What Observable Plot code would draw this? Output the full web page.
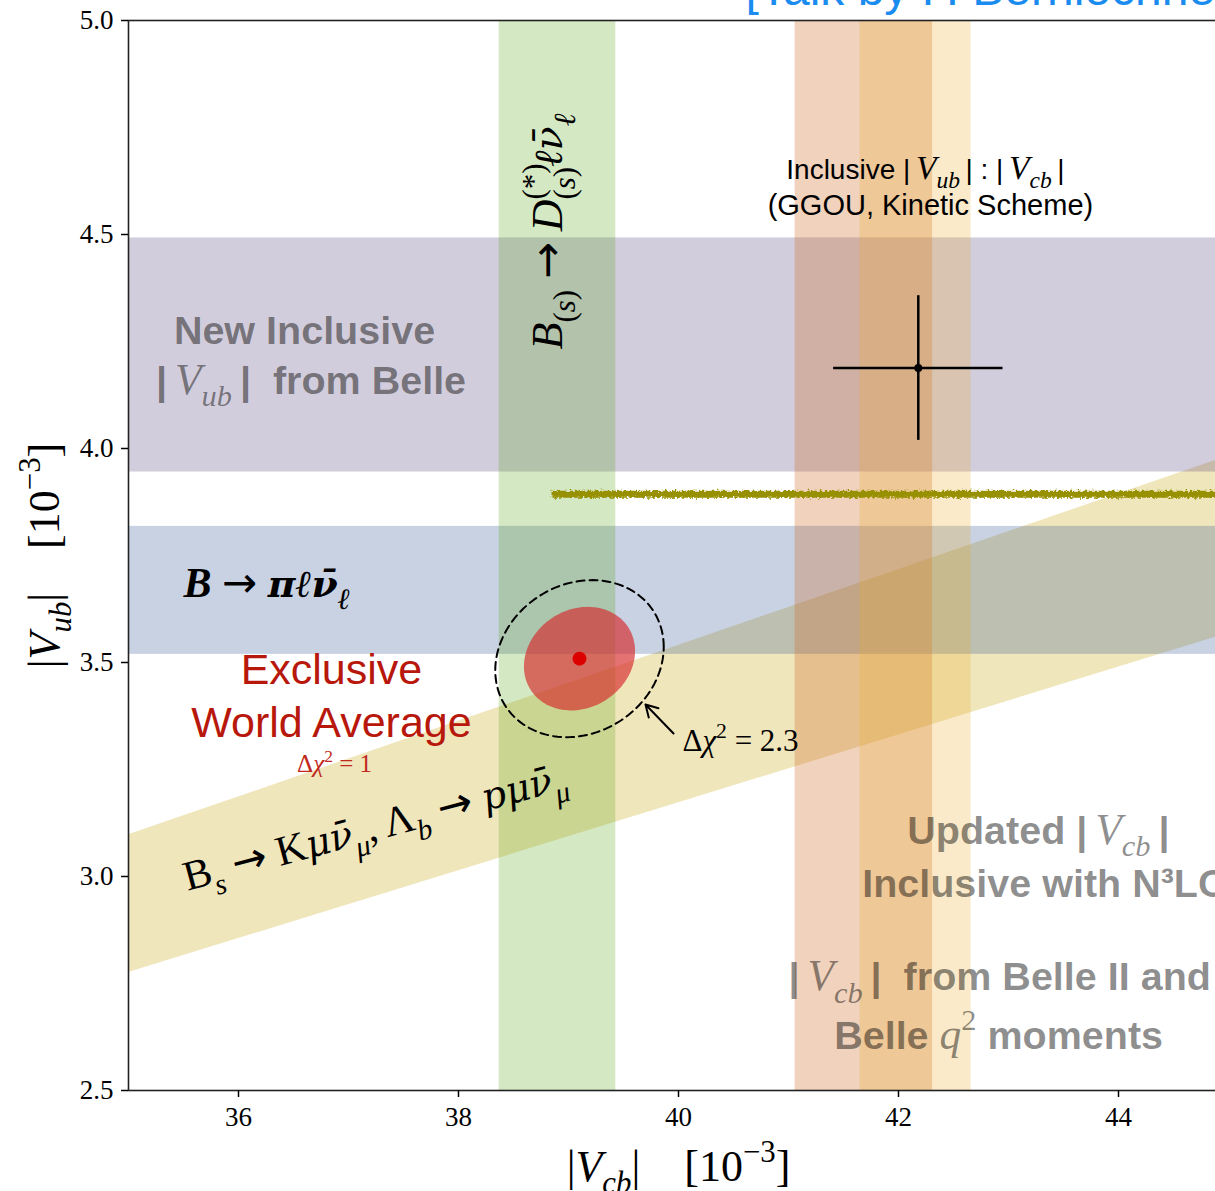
<!DOCTYPE html>
<html>
<head>
<meta charset="utf-8">
<script src="https://cdn.jsdelivr.net/npm/d3@7"></script>
<script src="https://cdn.jsdelivr.net/npm/@observablehq/plot@0.6"></script>
<style>
  html, body { margin: 0; padding: 0; background: #fff; overflow: hidden; }
  #chart svg { max-width: none !important; display: block; }
</style>
</head>
<body>
<div id="chart"></div>
<script>
// ---- Axes (|Vcb| and |Vub| in units of 10^-3) ----
const xDomain = [35, 45];
const yDomain = [2.5, 5.0];
const xTicks = [36, 38, 40, 42, 44];
const yTicks = [2.5, 3.0, 3.5, 4.0, 4.5, 5.0];

// ---- Vertical |Vcb| bands [low, high] ----
const vcbExclusiveBand = [38.37, 39.43];   // B(s) -> D(*)(s) l nu
const vcbInclusiveBand = [41.06, 42.31];   // updated inclusive with N3LO
const vcbMomentsBand = [41.65, 42.66];     // Belle II and Belle q^2 moments

// ---- Horizontal |Vub| bands [low, high] ----
const vubInclusiveBand = [3.945, 4.492];   // new inclusive |Vub| from Belle
const vubPionBand = [3.519, 3.818];        // B -> pi l nu

// ---- |Vub|/|Vcb| ratio band (Bs -> K mu nu, Lambda_b -> p mu nu) ----
const ratioBand = [0.0793, 0.0885];

// ---- Horizontal olive line ----
const oliveLevel = [3.893];
const oliveRange = [38.85, 45];

// ---- Inclusive |Vub| : |Vcb| point (GGOU, kinetic scheme) ----
const inclVcb = [42.18];
const inclVcbErr = [0.77];
const inclVub = [4.188];
const inclVubErr = [0.169];

// ---- Exclusive world average ----
const exclCenter = [39.10, 3.509];
const exclSigma = [0.505, 0.121];
const exclRho = [0.15];
const deltaChi2 = [1, 2.3];

const SERIF = "'Liberation Serif', 'DejaVu Serif', serif";
const SANS = "'Liberation Sans', Arial, Helvetica, sans-serif";
const GRAY = {fill: "black", fillOpacity: 0.45};
const TS = "\u2009"; // thin space

// covariance ellipse outline for a given delta chi^2
function ellipsePoints(k) {
  const s = Math.sqrt(k);
  const [cx, cy] = exclCenter, [sx, sy] = exclSigma, r = exclRho[0];
  return d3.range(0, 361, 3).map(a => {
    const t = a * Math.PI / 180;
    return {x: cx + s * sx * Math.cos(t),
            y: cy + s * sy * (r * Math.cos(t) + Math.sqrt(1 - r * r) * Math.sin(t))};
  });
}

const ratioData = xDomain.map(x => ({x, lo: ratioBand[0] * x, hi: ratioBand[1] * x}));

// ---- rich labels: $...$ math, _{..} subscript, ^{..} superscript, ! upright ----
const registry = new Map();
function plain(src) {
  return src.replace(/[$!]/g, "").replace(/[_^]\{([^}]*)\}/g, "$1");
}
function label(x, y, src, o = {}) {
  const {mathScale = 1, mathWeight = "normal", ...opt} = o;
  const t = plain(src);
  registry.set(t, {src, base: opt.fontSize, mathScale, mathWeight});
  return Plot.text([{x, y}], {x: "x", y: "y", text: () => t, lineAnchor: "bottom", ...opt});
}

function isItalic(ch) { return /[A-Za-z\u03b1-\u03c9\u2113]/.test(ch); }

function richify(el, spec) {
  const {src, base, mathScale, mathWeight} = spec;
  const NS = "http://www.w3.org/2000/svg";
  const runs = [];
  let math = false, group = 0, force = false, prevScript = null, i = 0;
  const push = (ch, level, g, forceUp, stack) => {
    const comb = /[\u0300-\u036f]/.test(ch);
    const arrow = ch === "→";
    const italic = math && !forceUp && isItalic(ch);
    const last = runs[runs.length - 1];
    if (last && last.g === g && last.level === level && last.math === math && !last.arrow && !arrow &&
        (comb || last.italic === italic) && !stack) {
      last.text += ch;
    } else {
      runs.push({text: ch, level, g, math, italic, stack, arrow});
    }
  };
  while (i < src.length) {
    const c = src[i];
    if (c === "$") { math = !math; i++; continue; }
    if ((c === "_" || c === "^") && src[i + 1] === "{") {
      const j = src.indexOf("}", i);
      const lev = c === "_" ? "sub" : "sup";
      const g = ++group;
      let stack = (lev === "sub" && prevScript && prevScript.lev === "sup" && prevScript.end === i) ? prevScript.g : null;
      let f = false;
      for (const ch of src.slice(i + 2, j)) {
        if (ch === "!") { f = true; continue; }
        push(ch, lev, g, f, stack);
        f = false; stack = null;
      }
      prevScript = {lev, g, end: j + 1};
      group++;
      i = j + 1;
      continue;
    }
    if (c === "!") { force = true; i++; continue; }
    push(c, "base", group, force, null);
    force = false;
    i++;
  }
  el.textContent = "";
  let shift = 0;
  const byGroup = new Map();
  for (const r of runs) {
    const ts = document.createElementNS(NS, "tspan");
    ts.textContent = r.text;
    const mSize = r.math ? base * mathScale : base;
    let size = r.level === "base" ? mSize : mSize * 0.7;
    const target = (r.level === "sub" ? 0.28 : r.level === "sup" ? -0.42 : 0) * mSize;
    if (Math.abs(target - shift) > 0.01) { ts.setAttribute("dy", (target - shift).toFixed(2)); shift = target; }
    if (r.math) {
      let fam = SERIF;
      if (r.arrow) fam = "'DejaVu Sans', sans-serif";
      else if (/[\u0300-\u036f]/.test(r.text)) { fam = "'DejaVu Serif', serif"; size *= 0.9; }
      ts.setAttribute("font-family", fam);
      ts.setAttribute("font-style", r.italic ? "italic" : "normal");
      ts.setAttribute("font-weight", r.arrow ? "normal" : mathWeight);
    }
    if (r.level !== "base" || r.math) ts.setAttribute("font-size", size.toFixed(2));
    el.appendChild(ts);
    r.node = ts;
    if (!byGroup.has(r.g)) byGroup.set(r.g, []);
    byGroup.get(r.g).push(ts);
  }
  // stack a subscript directly under the preceding superscript
  for (const r of runs) {
    if (r.stack != null) {
      const w = d3.sum(byGroup.get(r.stack), n => n.getComputedTextLength());
      r.node.setAttribute("dx", (-w).toFixed(2));
    }
  }
}

const chart = Plot.plot({
  width: 1240,
  height: 1191,
  marginLeft: 128,
  marginRight: 12,
  marginTop: 20,
  marginBottom: 101,
  x: {domain: xDomain},
  y: {domain: yDomain},
  style: {background: "white", fontFamily: SERIF, fontSize: "27px", color: "black"},
  marks: [
    // ratio band
    Plot.areaY(ratioData, {x: "x", y1: "lo", y2: "hi", fill: "#cdac20", fillOpacity: 0.3, clip: true}),
    // horizontal |Vub| bands
    Plot.rect([vubInclusiveBand], {x1: () => xDomain[0], x2: () => xDomain[1], y1: d => d[0], y2: d => d[1], fill: "#4b3773", fillOpacity: 0.25}),
    Plot.rect([vubPionBand], {x1: () => xDomain[0], x2: () => xDomain[1], y1: d => d[0], y2: d => d[1], fill: "#234b8b", fillOpacity: 0.25}),
    // vertical |Vcb| bands
    Plot.rect([vcbExclusiveBand], {x1: d => d[0], x2: d => d[1], y1: () => yDomain[0], y2: () => yDomain[1], fill: "#57a313", fillOpacity: 0.25}),
    Plot.rect([vcbInclusiveBand], {x1: d => d[0], x2: d => d[1], y1: () => yDomain[0], y2: () => yDomain[1], fill: "#cd6926", fillOpacity: 0.3}),
    Plot.rect([vcbMomentsBand], {x1: d => d[0], x2: d => d[1], y1: () => yDomain[0], y2: () => yDomain[1], fill: "#ebab2b", fillOpacity: 0.25}),
    // olive line
    Plot.ruleY(oliveLevel, {y: d => d, x1: () => oliveRange[0], x2: () => oliveRange[1], stroke: "#979000", strokeWidth: 7, clip: true}),
    // inclusive point with error bars
    Plot.ruleY(inclVub, {y: d => d, x1: (d, i) => inclVcb[i] - inclVcbErr[i], x2: (d, i) => inclVcb[i] + inclVcbErr[i], stroke: "black", strokeWidth: 2.5}),
    Plot.ruleX(inclVcb, {x: d => d, y1: (d, i) => inclVub[i] - inclVubErr[i], y2: (d, i) => inclVub[i] + inclVubErr[i], stroke: "black", strokeWidth: 2.5}),
    Plot.dot(inclVcb, {x: d => d, y: (d, i) => inclVub[i], r: 4, fill: "black"}),
    // exclusive world average
    Plot.line(ellipsePoints(deltaChi2[0]), {x: "x", y: "y", fill: "#d62728", fillOpacity: 0.65, stroke: "none"}),
    Plot.line(ellipsePoints(deltaChi2[1]), {x: "x", y: "y", stroke: "black", strokeWidth: 2, strokeDasharray: "8,5"}),
    Plot.dot([exclCenter], {x: d => d[0], y: d => d[1], r: 7, fill: "#dd0000"}),
    Plot.arrow([{x1: 39.955, y1: 3.334, x2: 39.70, y2: 3.402}], {x1: "x1", y1: "y1", x2: "x2", y2: "y2", stroke: "black", strokeWidth: 2, headLength: 14}),

    // labels
    label(40.61, 5.0, "[Talk by F. Bernlochner]", {dy: -16, fontSize: 48, fontFamily: SANS, fill: "#1a8cf0", textAnchor: "start"}),
    label(38.945, 4.507, "$B_{(s)} → D^{(*)}_{(s)}ℓν\u0304_{ℓ}$", {rotate: -90, fontSize: 44, fontFamily: SERIF, textAnchor: "middle"}),
    label(42.245, 4.63, `Inclusive |${TS}$V_{ub}$${TS}| : |${TS}$V_{cb}$${TS}|`, {fontSize: 28, fontFamily: SANS, textAnchor: "middle", mathScale: 1.2}),
    label(42.29, 4.545, "(GGOU, Kinetic Scheme)", {fontSize: 29, fontFamily: SANS, textAnchor: "middle"}),
    label(36.6, 4.245, "New Inclusive", {fontSize: 39.5, fontFamily: SANS, fontWeight: "bold", textAnchor: "middle", ...GRAY}),
    label(36.66, 4.128, `|${TS}$V_{ub}$${TS}|  from Belle`, {fontSize: 39.5, fontFamily: SANS, fontWeight: "bold", textAnchor: "middle", mathScale: 1.1, ...GRAY}),
    label(35.5, 3.652, "$B → πℓν\u0304_{ℓ}$", {fontSize: 42, fontFamily: SERIF, fontWeight: "bold", textAnchor: "start", mathWeight: "bold"}),
    label(36.845, 3.449, "Exclusive", {fontSize: 43, fontFamily: SANS, fill: "#b8180c", textAnchor: "middle"}),
    label(36.845, 3.325, "World Average", {fontSize: 43, fontFamily: SANS, fill: "#b8180c", textAnchor: "middle"}),
    label(36.873, 3.243, "$Δχ^{2} = 1$", {fontSize: 25, fontFamily: SERIF, fill: "#c0281c", textAnchor: "middle"}),
    label(40.036, 3.294, "$Δχ^{2} = 2.3$", {fontSize: 31, fontFamily: SERIF, textAnchor: "start"}),
    label(37.27, 3.086, "$!B_{s} → !Kμν\u0304_{μ}, Λ_{b} → pμν\u0304_{μ}$", {rotate: -15, fontSize: 42, fontFamily: SERIF, textAnchor: "middle"}),
    label(42.08, 3.077, `Updated |${TS}$V_{cb}$${TS}|`, {fontSize: 39.5, fontFamily: SANS, fontWeight: "bold", textAnchor: "start", mathScale: 1.1, ...GRAY}),
    label(41.67, 2.951, "Inclusive with N³LO", {fontSize: 39.5, fontFamily: SANS, fontWeight: "bold", textAnchor: "start", ...GRAY}),
    label(42.92, 2.734, `|${TS}$V_{cb}$${TS}|  from Belle II and`, {fontSize: 39.5, fontFamily: SANS, fontWeight: "bold", textAnchor: "middle", mathScale: 1.1, ...GRAY}),
    label(42.91, 2.598, "Belle $q^{2}$ moments", {fontSize: 39.5, fontFamily: SANS, fontWeight: "bold", textAnchor: "middle", mathScale: 1.1, ...GRAY}),

    // axis titles
    label(35, 3.75, "$|V_{ub}|$\u00a0\u00a0\u00a0\u00a0$[10^{−3}]$", {dx: -70, rotate: -90, fontSize: 44, fontFamily: SERIF, textAnchor: "middle"}),
    label(40, 2.5, "$|V_{cb}|$\u00a0\u00a0\u00a0\u00a0$[10^{−3}]$", {dy: 90, fontSize: 44, fontFamily: SERIF, textAnchor: "middle"}),

    Plot.frame({stroke: "#222", strokeWidth: 1.6}),
    Plot.axisX({ticks: xTicks, tickSize: 7, tickPadding: 9, fontSize: 27, fontFamily: SERIF, label: null, strokeWidth: 1.5, tickFormat: d => String(d)}),
    Plot.axisY({ticks: yTicks, tickSize: 7, tickPadding: 8, fontSize: 27, fontFamily: SERIF, label: null, strokeWidth: 1.5, tickFormat: d3.format(".1f")})
  ]
});

document.getElementById("chart").append(chart);

// typeset labels with italics, sub- and superscripts
chart.querySelectorAll("text").forEach(el => {
  const spec = registry.get(el.textContent);
  if (spec) richify(el, spec);
});

// rough texture for the olive line
const NS = "http://www.w3.org/2000/svg";
const defs = document.createElementNS(NS, "defs");
defs.innerHTML = `<filter id="rough" filterUnits="userSpaceOnUse" x="0" y="0" width="1240" height="1191">
  <feTurbulence type="fractalNoise" baseFrequency="0.4" numOctaves="2" seed="7"/>
  <feDisplacementMap in="SourceGraphic" scale="6" xChannelSelector="R" yChannelSelector="G"/>
</filter>`;
chart.prepend(defs);
const olive = chart.querySelector('g[stroke="#979000"]');
if (olive) olive.setAttribute("filter", "url(#rough)");
</script>
</body>
</html>
